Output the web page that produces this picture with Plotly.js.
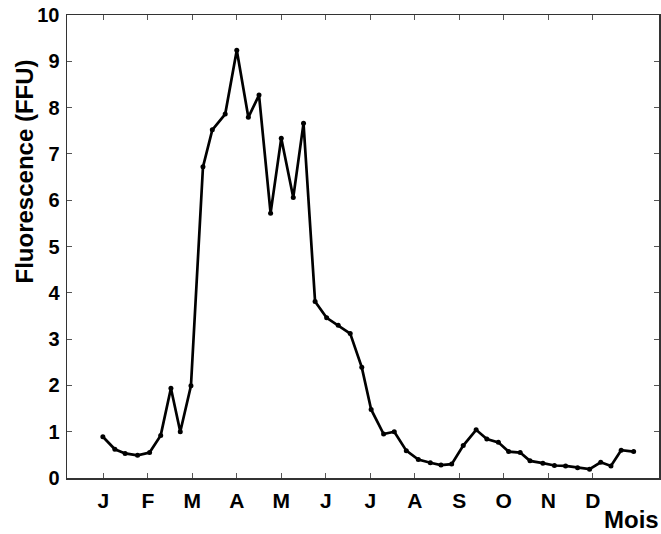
<!DOCTYPE html>
<html>
<head>
<meta charset="utf-8">
<script src="https://cdn.plot.ly/plotly-3.0.1.min.js"></script>
<style>html,body{margin:0;padding:0;background:#fff;}#chart{width:661px;height:534px;}</style>
</head>
<body>
<div id="chart"></div>
<script>
// Time in months (1 = start of January)
const months = [0.99, 1.26, 1.49, 1.77, 2.04, 2.29, 2.52, 2.73, 2.97, 3.24, 3.45, 3.74,
  4.00, 4.26, 4.50, 4.76, 5.00, 5.27, 5.50, 5.76, 6.02, 6.28, 6.55, 6.81,
  7.02, 7.30, 7.54, 7.81, 8.08, 8.35, 8.59, 8.83, 9.09, 9.38, 9.62, 9.88,
  10.11, 10.37, 10.59, 10.88, 11.14, 11.39, 11.66, 11.93, 12.18, 12.41, 12.64, 12.92];
const fluorescence = [0.89, 0.62, 0.53, 0.49, 0.55, 0.92, 1.94, 1.00, 1.99, 6.72, 7.52, 7.86,
  9.24, 7.79, 8.27, 5.72, 7.34, 6.06, 7.66, 3.81, 3.46, 3.30, 3.12, 2.39,
  1.48, 0.95, 1.00, 0.59, 0.40, 0.33, 0.28, 0.30, 0.70, 1.04, 0.84, 0.77,
  0.57, 0.55, 0.37, 0.32, 0.27, 0.26, 0.22, 0.19, 0.34, 0.26, 0.60, 0.57];
const monthTickVals = [1, 2, 3, 4, 5, 6, 7, 8, 9, 10, 11, 12];
const monthTickText = ['J', 'F', 'M', 'A', 'M', 'J', 'J', 'A', 'S', 'O', 'N', 'D'];
const yTickVals = [0, 1, 2, 3, 4, 5, 6, 7, 8, 9, 10];

const font = {family: 'Liberation Sans, Arial, sans-serif', color: '#000', weight: 700};

const trace = {
  x: months, y: fluorescence, type: 'scatter', mode: 'lines+markers',
  line: {color: '#000', width: 2.7},
  marker: {color: '#000', size: 5},
  hoverinfo: 'x+y'
};

const axisCommon = {
  showline: true, linecolor: '#333', linewidth: 1.5, mirror: 'ticks',
  ticks: 'inside', ticklen: 5, tickwidth: 1, tickcolor: '#555',
  showgrid: false, zeroline: false
};

const layout = {
  width: 661, height: 534,
  margin: {l: 67, r: 2, t: 15, b: 56},
  paper_bgcolor: '#fff', plot_bgcolor: '#fff',
  showlegend: false,
  font: font,
  xaxis: Object.assign({}, axisCommon, {
    range: [0.184, 13.49], tickmode: 'array', tickvals: monthTickVals, ticktext: monthTickText,
    tickfont: Object.assign({}, font, {size: 21}), ticklabelstandoff: 3
  }),
  yaxis: Object.assign({}, axisCommon, {
    range: [0, 10], tickmode: 'array', tickvals: yTickVals,
    tickfont: Object.assign({}, font, {size: 20}), ticklabelstandoff: 2
  }),
  annotations: [
    {text: 'Fluorescence (FFU)', xref: 'paper', yref: 'paper', x: -0.071, y: 0.662,
     xanchor: 'center', yanchor: 'middle', textangle: -90, showarrow: false,
     font: Object.assign({}, font, {size: 24})},
    {text: 'Mois', xref: 'paper', yref: 'paper', x: 1.0034, y: -0.09,
     xanchor: 'right', yanchor: 'middle', showarrow: false,
     font: Object.assign({}, font, {size: 24})}
  ]
};

Plotly.newPlot('chart', [trace], layout, {displayModeBar: false, staticPlot: true});
</script>
</body>
</html>
